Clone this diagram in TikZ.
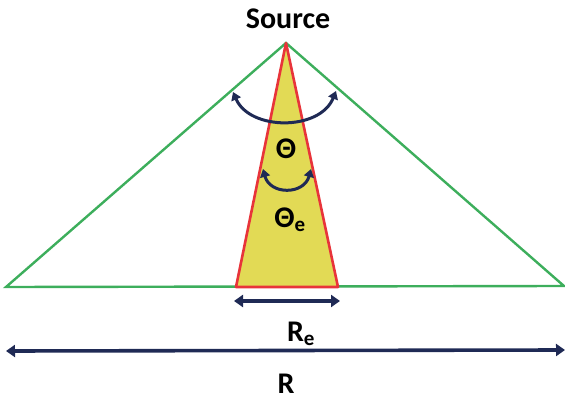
\documentclass[tikz,border=0pt]{standalone}
\usepackage{fontspec}
\setmainfont{Carlito}
\usetikzlibrary{arrows.meta}
\definecolor{gline}{HTML}{3DAE5C}
\definecolor{rline}{HTML}{E8343A}
\definecolor{yfill}{HTML}{E2DA55}
\definecolor{navy}{HTML}{1F2A55}
\begin{document}
\begin{tikzpicture}[x=1pt,y=-1pt,
  lbl/.style={font=\fontsize{30}{33}\selectfont\bfseries, inner sep=0pt},
  dim/.style={draw=navy, line width=3.6pt, {Triangle[length=9pt,width=12pt]}-{Triangle[length=9pt,width=12pt]}},
  arc/.style={draw=navy, line width=3pt, {Triangle[length=8pt,width=10pt]}-{Triangle[length=8pt,width=10pt]}}]
\useasboundingbox (0,0) rectangle (565,401);
\coordinate (apex) at (286,43);
\coordinate (gl) at (6,287);
\coordinate (gr) at (564,286);
\coordinate (rl) at (236,287);
\coordinate (rr) at (338,287);
\draw[gline, line width=2.4pt] (gl) -- (apex) -- (gr) -- cycle;
\draw[rline, fill=yfill, line width=2.6pt, line join=round] (rl) -- (apex) -- (rr) -- cycle;
\node[lbl] (src) at (288,19) {Source};
\node[lbl] (th) at (286,149) {Θ};
\node[lbl] (the) at (290,220) {Θ\textsubscript{e}};
\coordinate (a1) at (233,92);
\coordinate (a2) at (336,91);
\draw[arc] (a1) .. controls (250,131) and (320,131) .. (a2);
\coordinate (b1) at (263,169);
\coordinate (b2) at (311,169);
\draw[arc] (b1) .. controls (270,195) and (304,195) .. (b2);
\coordinate (re1) at (234,301);
\coordinate (re2) at (340,301);
\draw[dim] (re1) -- (re2);
\node[lbl] (re) at (301,334) {R\textsubscript{e}};
\coordinate (r1) at (6,351);
\coordinate (r2) at (565,350);
\draw[dim] (r1) -- (r2);
\node[lbl] (r) at (286,384) {R};
\end{tikzpicture}
\end{document}
